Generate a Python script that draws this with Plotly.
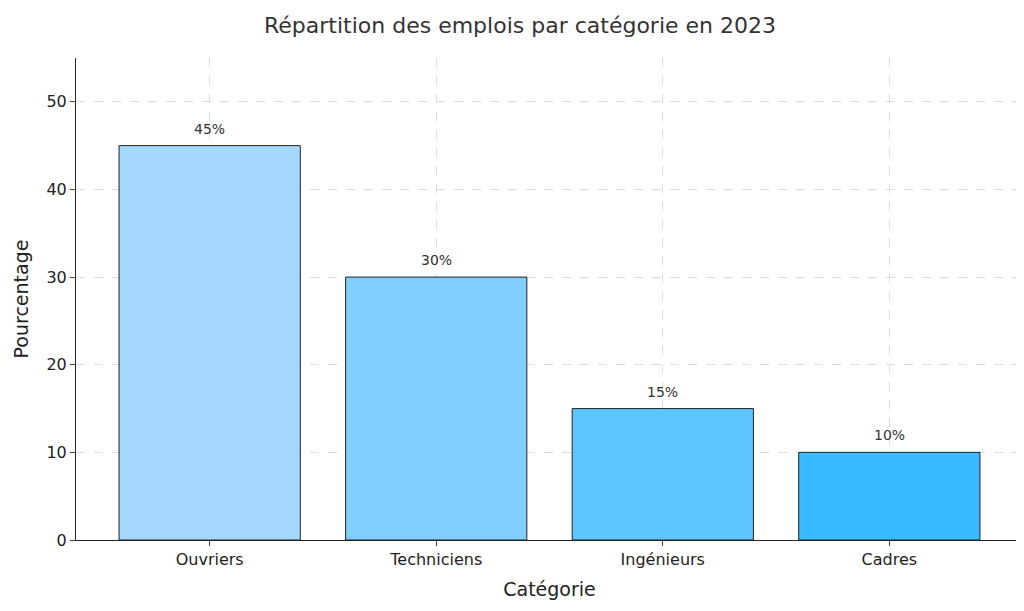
import plotly.graph_objects as go

# Job categories and their share in 2023
categories = ['Ouvriers', 'Techniciens', 'Ingénieurs', 'Cadres']
percentages = [45, 30, 15, 10]
bar_colors = ['#a6d8ff', '#80ceff', '#5ec4ff', '#38bbff']

fig = go.Figure(go.Bar(
    x=categories,
    y=percentages,
    width=0.8,
    marker=dict(color=bar_colors, line=dict(color='#222', width=1)),
))

# value labels a bit above each bar
for c, p in zip(categories, percentages):
    fig.add_annotation(x=c, y=p, text=f'{p}%', showarrow=False, yanchor='bottom',
                       yshift=7, font=dict(size=14, color='#333'))

fig.update_layout(
    title=dict(text='Répartition des emplois par catégorie en 2023', x=0.5, y=0.985,
               font=dict(size=22, color='#333')),
    font=dict(family='DejaVu Sans', color='#222'),
    plot_bgcolor='white',
    paper_bgcolor='white',
    width=1024, height=611,
    margin=dict(l=68, r=9, t=50, b=79),
    showlegend=False,
)
fig.update_xaxes(
    title=dict(text='Catégorie', font=dict(size=19), standoff=14),
    tickfont=dict(size=16),
    range=[-0.59, 3.59],
    showgrid=True, gridcolor='#dcdcdc', griddash='dash', gridwidth=0.8,
    showline=True, linecolor='#222', ticks='outside', ticklen=5,
)
fig.update_yaxes(
    title=dict(text='Pourcentage', font=dict(size=19), standoff=12),
    tickfont=dict(size=16),
    range=[0, 55], dtick=10,
    showgrid=True, gridcolor='#dcdcdc', griddash='dash', gridwidth=0.8,
    showline=True, linecolor='#222', ticks='outside', ticklen=5,
    zeroline=False,
)

fig.write_html('out.html')
